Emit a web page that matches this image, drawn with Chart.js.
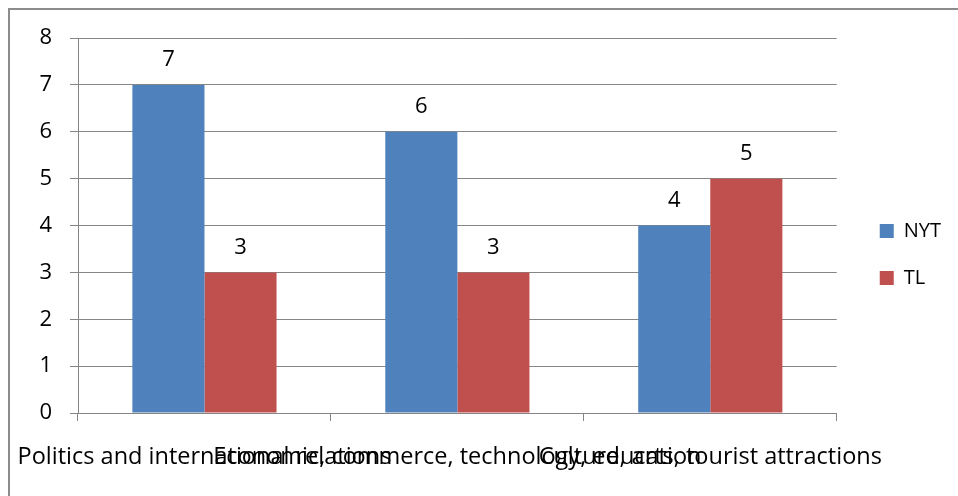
<!DOCTYPE html>
<html>
<head>
<meta charset="utf-8">
<script src="https://cdn.jsdelivr.net/npm/chart.js@4.4.1/dist/chart.umd.min.js"></script>
<style>
  html, body { margin: 0; padding: 0; background: #fff; overflow: hidden; }
</style>
</head>
<body>
<canvas id="topics" width="958" height="496"></canvas>
<script>
const categories = [
  "Politics and international relations",
  "Economic, commerce, technology, education",
  "Culture, arts, tourist attractions"
]
const nytValues = [7, 6, 4]
const tlValues = [3, 3, 5]
const yMax = 8

const FONT = "Open Sans"
const GRID = "#868686"

// value labels above each bar
const barValues = {
  id: "barValues",
  afterDatasetsDraw(chart) {
    const ctx = chart.ctx
    ctx.save()
    ctx.font = `22px ${FONT}`
    ctx.fillStyle = "#000"
    ctx.textAlign = "center"
    ctx.textBaseline = "middle"
    chart.data.datasets.forEach((ds, i) => {
      chart.getDatasetMeta(i).data.forEach((bar, j) => {
        ctx.fillText(ds.data[j], bar.x, bar.y - 25)
      })
    })
    ctx.restore()
  }
}

// grey frame around the whole chart
const frame = {
  id: "frame",
  beforeDraw(chart) {
    const ctx = chart.ctx
    ctx.save()
    ctx.strokeStyle = "#8c8c8c"
    ctx.lineWidth = 2
    ctx.strokeRect(9, 9, 2000, 2000)
    ctx.restore()
  }
}

new Chart(document.querySelector("#topics"), {
  type: "bar",
  data: {
    labels: categories,
    datasets: [
      { label: "NYT", data: nytValues, backgroundColor: "#4F81BD" },
      { label: "TL", data: tlValues, backgroundColor: "#C0504D" }
    ]
  },
  options: {
    responsive: false,
    animation: false,
    categoryPercentage: 0.57,
    barPercentage: 1,
    layout: { padding: { top: 38, left: 10, right: 7, bottom: 25 } },
    plugins: {
      tooltip: { enabled: false },
      legend: {
        position: "right",
        labels: {
          boxWidth: 14,
          boxHeight: 14,
          padding: 27,
          color: "#000",
          font: { family: FONT, size: 20 }
        }
      }
    },
    scales: {
      x: {
        offset: true,
        grid: { display: true, drawOnChartArea: false, drawTicks: true, tickLength: 8, color: GRID, offset: true },
        border: { color: GRID },
        ticks: { autoSkip: false, maxRotation: 0, minRotation: 0, padding: 22, color: "#000", font: { family: FONT, size: 23.5 } },
        afterFit(s) {
          s.height = 58
          s.paddingLeft = 0
          s.paddingRight = 0
        }
      },
      y: {
        min: 0,
        max: yMax,
        grid: { color: GRID, tickLength: 8 },
        border: { color: GRID },
        ticks: { stepSize: 1, padding: 18, color: "#000", font: { family: FONT, size: 22 } },
        afterFit(s) { s.width = 68 }
      },
      // empty spacer between the plot and the legend
      gap: {
        type: "linear",
        position: "right",
        grid: { display: false },
        border: { display: false },
        ticks: { display: false },
        afterFit(s) { s.width = 16 }
      }
    }
  },
  plugins: [frame, barValues]
})
</script>
</body>
</html>
